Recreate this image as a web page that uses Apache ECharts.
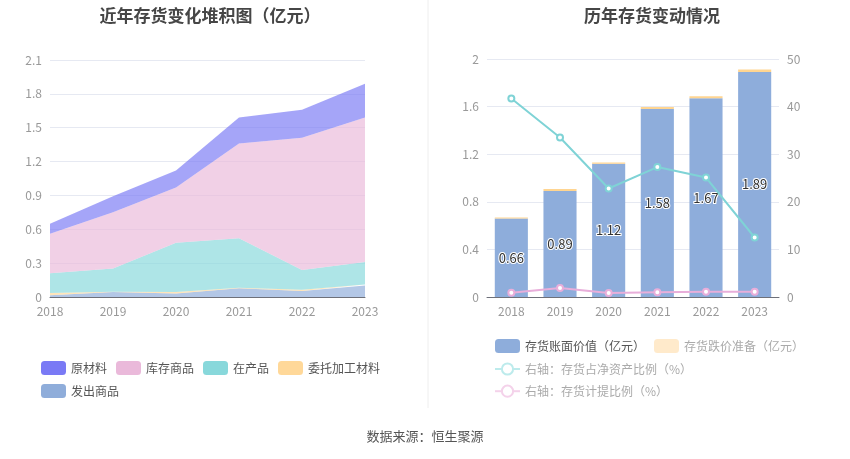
<!DOCTYPE html>
<html>
<head>
<meta charset="utf-8">
<script src="https://cdn.jsdelivr.net/npm/echarts@6/dist/echarts.min.js"></script>
<style>
  html, body { margin: 0; padding: 0; background: #fff; }
  #main { width: 850px; height: 459px; }
</style>
</head>
<body>
<div id="main"></div>
<script>
var years = ["2018", "2019", "2020", "2021", "2022", "2023"]

// left chart, stacked areas (亿元)
var faChu = [0.015, 0.044, 0.032, 0.077, 0.053, 0.103]
var weiTuo = [0.02, 0.003, 0.013, 0.006, 0.012, 0.007]
var zaiChan = [0.175, 0.205, 0.435, 0.437, 0.175, 0.2]
var kuCun = [0.35, 0.5, 0.49, 0.84, 1.17, 1.28]
var yuanCai = [0.09, 0.14, 0.15, 0.23, 0.25, 0.3]

// right chart
var bookValue = [0.66, 0.89, 1.12, 1.58, 1.67, 1.89]
var reserve = [0.008, 0.017, 0.01, 0.016, 0.018, 0.021]
var netAssetRatio = [41.7, 33.5, 22.8, 27.3, 25.1, 12.5]
var reserveRatio = [0.9, 1.9, 0.84, 1.0, 1.1, 1.1]

var leftTicks = ["0", "0.3", "0.6", "0.9", "1.2", "1.5", "1.8", "2.1"]

var chart = echarts.init(document.querySelector("#main"))

var font = "'Noto Sans CJK SC', 'Noto Sans', sans-serif"
var axisText = { color: "#999", fontSize: 12, fontFamily: font }
var splitLine = { lineStyle: { color: "#E6E9F2" } }

function area(name, data, color) {
    return {
        name: name,
        type: "line",
        stack: "total",
        data: data,
        symbol: "none",
        lineStyle: { width: 0 },
        itemStyle: { color: color },
        areaStyle: { color: color, opacity: 0.68 },
        xAxisIndex: 0,
        yAxisIndex: 0,
    }
}

// legend entry drawn paler than the series
function paleLine(name, color) {
    return {
        name: name,
        itemStyle: { color: color },
        lineStyle: { color: color, width: 2, type: "solid" },
        textStyle: { color: "#aaa" },
    }
}

var option = {
    textStyle: { fontFamily: font },
    title: [{
        text: "近年存货变化堆积图（亿元）",
        left: 205,
        textAlign: "center",
        top: 2,
        textStyle: { fontSize: 17, fontWeight: "bold", color: "#464646", fontFamily: font },
    }, {
        text: "历年存货变动情况",
        left: 647,
        textAlign: "center",
        top: 2,
        textStyle: { fontSize: 17, fontWeight: "bold", color: "#464646", fontFamily: font },
    }],
    legend: [{
        left: 36,
        top: 356,
        width: 360,
        icon: "roundRect",
        itemWidth: 25,
        itemHeight: 14,
        itemGap: 9,
        textStyle: { color: "#555", fontSize: 12, fontFamily: font },
        data: ["原材料", "库存商品", "在产品", "委托加工材料", "发出商品"],
    }, {
        left: 489,
        top: 334,
        width: 320,
        itemWidth: 25,
        itemHeight: 14,
        itemGap: 9,
        textStyle: { color: "#555", fontSize: 12, fontFamily: font },
        data: [
            { name: "存货账面价值（亿元）", icon: "roundRect" },
            { name: "存货跌价准备（亿元）", icon: "roundRect", itemStyle: { color: "#FFEACB" }, textStyle: { color: "#aaa" } },
            paleLine("右轴：存货占净资产比例（%）", "#BDEBEC"),
            paleLine("右轴：存货计提比例（%）", "#F4D2EA"),
        ],
    }],
    grid: [
        { left: 50, top: 60, width: 315, height: 237 },
        { left: 487, top: 59, width: 292, height: 238 },
    ],
    xAxis: [{
        gridIndex: 0,
        type: "category",
        boundaryGap: false,
        data: years,
        axisLine: { lineStyle: { color: "#6E7079" } },
        axisTick: { show: false },
        axisLabel: axisText,
    }, {
        gridIndex: 1,
        type: "category",
        data: years,
        axisLine: { lineStyle: { color: "#6E7079" } },
        axisTick: { show: false },
        axisLabel: axisText,
    }],
    yAxis: [{
        gridIndex: 0,
        type: "value",
        min: 0,
        max: 2.1,
        interval: 0.3,
        axisLabel: Object.assign({ formatter: function (v) {
            return leftTicks[Math.round(v / 0.3)]
        } }, axisText),
        splitLine: splitLine,
    }, {
        gridIndex: 1,
        type: "value",
        min: 0,
        max: 2,
        interval: 0.4,
        axisLabel: axisText,
        splitLine: splitLine,
    }, {
        gridIndex: 1,
        type: "value",
        position: "right",
        min: 0,
        max: 50,
        interval: 10,
        axisLabel: axisText,
        splitLine: { show: false },
    }],
    series: [
        area("发出商品", faChu, "#8FADDA"),
        area("委托加工材料", weiTuo, "#FFD899"),
        area("在产品", zaiChan, "#88D8DB"),
        area("库存商品", kuCun, "#EAB9DA"),
        area("原材料", yuanCai, "#7A7AF5"),
        {
            name: "存货账面价值（亿元）",
            type: "bar",
            stack: "inv",
            xAxisIndex: 1,
            yAxisIndex: 1,
            barWidth: "68%",
            data: bookValue,
            itemStyle: { color: "#8EADDB" },
            label: {
                show: true,
                position: "inside",
                color: "#333",
                fontSize: 13,
                textBorderColor: "#fff",
                textBorderWidth: 2,
            },
        },
        {
            name: "存货跌价准备（亿元）",
            type: "bar",
            stack: "inv",
            xAxisIndex: 1,
            yAxisIndex: 1,
            data: reserve,
            itemStyle: { color: "#FFD591" },
        },
        {
            name: "右轴：存货占净资产比例（%）",
            type: "line",
            xAxisIndex: 1,
            yAxisIndex: 2,
            data: netAssetRatio,
            symbol: "emptyCircle",
            symbolSize: 6,
            lineStyle: { width: 2, color: "#7FD3D6" },
            itemStyle: { color: "#7FD3D6" },
        },
        {
            name: "右轴：存货计提比例（%）",
            type: "line",
            xAxisIndex: 1,
            yAxisIndex: 2,
            data: reserveRatio,
            symbol: "emptyCircle",
            symbolSize: 6,
            lineStyle: { width: 2, color: "#E8AEDA" },
            itemStyle: { color: "#E8AEDA" },
        },
    ],
    graphic: [{
        type: "line",
        shape: { x1: 428, y1: 0, x2: 428, y2: 408 },
        style: { stroke: "#EEEEEE", lineWidth: 1 },
    }, {
        type: "text",
        left: "center",
        top: 430,
        style: { text: "数据来源：恒生聚源", fill: "#555", fontSize: 13, fontFamily: font },
    }],
}

chart.setOption(option)
</script>
</body>
</html>
